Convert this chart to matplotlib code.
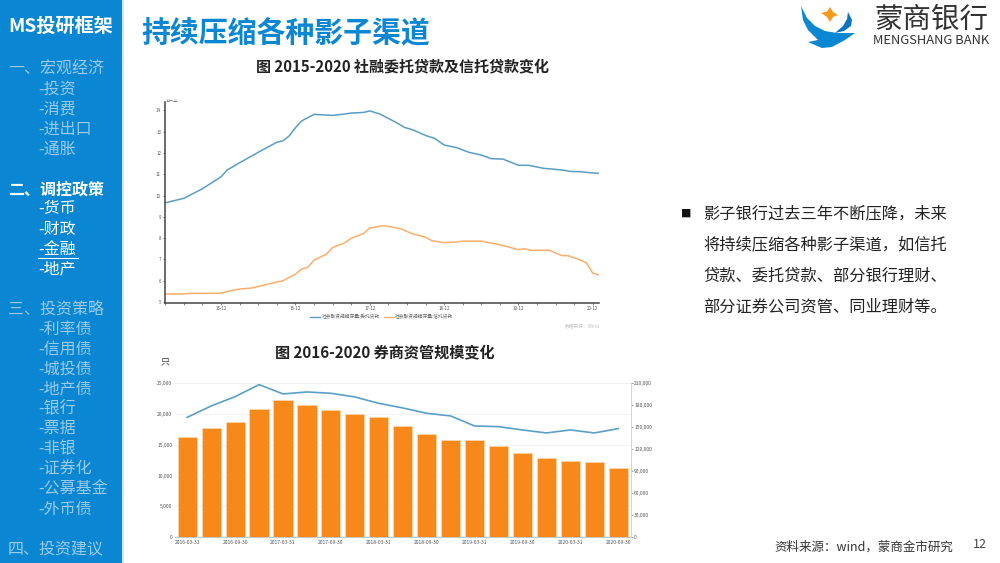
import matplotlib
matplotlib.use('Agg')
import matplotlib.pyplot as plt
from matplotlib.patches import Rectangle, Polygon

plt.rcParams['font.family'] = ['Noto Sans CJK SC', 'DejaVu Sans']

W, H = 1000, 563
BLUE = '#0a86d2'

# top chart: months since 2015-03, 万亿元
entrust_months = [0, 3, 6, 9, 10, 12, 15, 18, 19, 20, 21, 22, 24, 27, 29, 30, 32, 33, 34.6, 36, 37,
                  38.6, 40, 42, 43.5, 45, 47, 49, 51, 52.6, 54.5, 57, 58.6, 61, 64, 65.5, 67, 69, 70]
entrust = [9.66, 9.87, 10.32, 10.88, 11.2, 11.54, 12.03, 12.5, 12.57, 12.8, 13.18, 13.5, 13.81, 13.76,
           13.83, 13.87, 13.9, 13.97, 13.83, 13.62, 13.47, 13.2, 13.08, 12.82, 12.68, 12.37, 12.25,
           12.03, 11.9, 11.73, 11.71, 11.42, 11.42, 11.28, 11.2, 11.13, 11.12, 11.06, 11.04]
trust_months = [0, 3, 4, 9, 10, 12, 14, 16, 18, 19, 21, 22, 23, 24, 26, 27, 29, 30, 32, 33, 35, 36, 38,
                40, 42, 43, 45, 47, 48, 51, 54, 57, 58, 59, 62, 64, 65, 67, 68, 69, 70]
trust = [5.38, 5.38, 5.41, 5.41, 5.5, 5.61, 5.66, 5.8, 5.94, 6.0, 6.31, 6.55, 6.63, 6.97, 7.25, 7.55,
         7.79, 7.99, 8.22, 8.47, 8.58, 8.55, 8.44, 8.19, 8.05, 7.88, 7.79, 7.82, 7.86, 7.86, 7.69,
         7.46, 7.5, 7.43, 7.43, 7.18, 7.18, 6.97, 6.83, 6.35, 6.28]
top_yticks = [5, 6, 7, 8, 9, 10, 11, 12, 13, 14]
top_xticks = [9, 21, 33, 45, 57, 69]
top_xlabels = ['15-12', '16-12', '17-12', '18-12', '19-12', '20-12']

# bottom chart: quarterly
quarters = list(range(19))
bars = [16340, 17800, 18720, 20890, 22290, 21480, 20670, 20080, 19530, 18130, 16830, 15850, 15750,
        14880, 13640, 12880, 12450, 12180, 11310]
scale = [163600, 179100, 191800, 208200, 195500, 198200, 196400, 191400, 182700, 176400, 169100,
         165500, 151800, 150900, 146400, 142300, 146400, 142300, 148200]
bot_labels = ['2016-03-31', '2016-09-30', '2017-03-31', '2017-09-30', '2018-03-31',
              '2018-09-30', '2019-03-31', '2019-09-30', '2020-03-31', '2020-09-30']

menu = [(69, '一、宏观经济', 8, 0), (89, '-投资', 38, 0), (109, '-消费', 38, 0), (129, '-进出口', 38, 0),
        (149, '-通胀', 38, 0), (189, '二、调控政策', 8, 2), (209, '-货币', 38, 1), (229, '-财政', 38, 1),
        (249, '-金融', 38, 1), (269, '-地产', 38, 1), (309, '三、投资策略', 8, 0), (329, '-利率债', 38, 0),
        (349, '-信用债', 38, 0), (369, '-城投债', 38, 0), (389, '-地产债', 38, 0), (409, '-银行', 38, 0),
        (429, '-票据', 38, 0), (449, '-非银', 38, 0), (469, '-证券化', 38, 0), (489, '-公募基金', 38, 0),
        (509, '-外币债', 38, 0), (549, '四、投资建议', 8, 0)]
body = ['影子银行过去三年不断压降，未来', '将持续压缩各种影子渠道，如信托',
        '贷款、委托贷款、部分银行理财、', '部分证券公司资管、同业理财等。']


def axes_px(fig, left, top, right, bottom):
    return fig.add_axes([left / W, 1 - bottom / H, (right - left) / W, (bottom - top) / H])


fig = plt.figure(figsize=(10, 5.63), dpi=100)

# page layer in pixel coordinates
bg = fig.add_axes([0, 0, 1, 1])
bg.set_xlim(0, W)
bg.set_ylim(H, 0)
bg.axis('off')
bg.add_patch(Rectangle((0, 0), 122, H, color=BLUE, lw=0))
bg.add_patch(Rectangle((122, 0), 1.5, H, color='#cfe6f6', lw=0))
bg.text(61, 26, 'MS投研框架', color='white', fontsize=13.8, fontweight='bold', ha='center', va='center')
for y, label, x, level in menu:
    col = '#9acbeb' if level == 0 else 'white'
    bg.text(x, y, label, color=col, fontsize=11.5, va='center', fontweight='bold' if level == 2 else 'normal')
bg.plot([38, 78], [258, 258], color='white', lw=0.8)

bg.text(141, 32, '持续压缩各种影子渠道', color=BLUE, fontsize=20.8, fontweight='bold', va='center')
bg.text(403, 66, '图 2015-2020 社融委托贷款及信托贷款变化', color='#222222', fontsize=10.8,
        fontweight='bold', ha='center', va='center')
bg.text(385, 352, '图 2016-2020 券商资管规模变化', color='#222222', fontsize=10.9,
        fontweight='bold', ha='center', va='center')
bg.text(165, 363, '只', color='#333333', fontsize=6.5, ha='center', va='center')

bg.text(686, 214, '■', color='#111111', fontsize=7.5, ha='center', va='center')
for i, line in enumerate(body):
    bg.text(703, 214 + i * 31, line, color='#222222', fontsize=11.7, va='center')
bg.text(774, 547, '资料来源：wind，蒙商金市研究', color='#333333', fontsize=9, va='center')
bg.text(980, 545, '12', color='#444444', fontsize=9, ha='center', va='center')

# logo
bg.add_patch(Polygon([(801, 6), (807, 18), (815, 26), (825, 31), (837, 33), (855, 33), (845, 40), (832, 47),
                      (822, 48), (808, 42), (818, 40), (808, 30), (803, 20)], color='#0a86d2', lw=0))
bg.add_patch(Polygon([(848, 12), (852, 20), (851, 26), (844, 31), (835, 33), (843, 26), (847, 19)],
                     color='#0a74bf', lw=0))
bg.add_patch(Polygon([(821, 13), (827, 11.5), (830, 7), (833, 12), (838, 15), (833, 17), (830, 22), (827, 17)],
                     color='#f39a1e', lw=0))
bg.text(931, 20, '蒙商银行', color='#333333', fontsize=20.5, ha='center', va='center')
bg.text(931, 41, 'MENGSHANG BANK', color='#333333', fontsize=9.3, ha='center', va='center', fontweight='medium')

# top chart
ax = axes_px(fig, 164.5, 102, 599, 302.7)
ax.plot(entrust_months, entrust, color='#5a9dc2', lw=1.1)
ax.plot(trust_months, trust, color='#f9ae6b', lw=1.1)
ax.set_xlim(-0.13, 70)
ax.set_ylim(4.97, 14.39)
ax.set_yticks(top_yticks)
ax.set_xticks(range(0, 70, 3), minor=True)
ax.set_xticks(top_xticks)
ax.set_xticklabels(top_xlabels)
ax.tick_params(axis='both', which='major', labelsize=3.2, length=1.5, width=0.5, pad=1, colors='#555555')
ax.tick_params(axis='x', which='minor', length=1.2, width=0.5, color='#555555')
for s in ['top', 'right']:
    ax.spines[s].set_visible(False)
for s in ['left', 'bottom']:
    ax.spines[s].set_color('#444444')
    ax.spines[s].set_linewidth(1.1)
bg.text(166, 102, '万亿元', fontsize=3, color='#555555', va='center')

bg.plot([310, 320], [317, 317], color='#5a9dc2', lw=1)
bg.text(322, 317, '社会融资规模存量:委托贷款', fontsize=3.4, color='#666666', va='center')
bg.plot([384, 394], [317, 317], color='#f9ae6b', lw=1)
bg.text(395, 317, '社会融资规模存量:信托贷款', fontsize=3.4, color='#666666', va='center')
bg.text(600, 326, '数据来源：Wind', fontsize=3.4, color='#c4c4c4', ha='right', va='center')

# bottom chart
ax2 = axes_px(fig, 175, 383.3, 630.7, 537.3)
ax2.bar(quarters, bars, width=0.8, color='#f7881a', edgecolor='#fbd9b5', lw=0.5, zorder=2)
ax2.set_xlim(-0.51, 18.52)
ax2.set_ylim(0, 25000)
ax2.set_yticks(range(0, 25001, 5000))
ax2.set_yticklabels(['0', '5,000', '10,000', '15,000', '20,000', '25,000'])
ax2.set_xticks(quarters[::2])
ax2.set_xticklabels(bot_labels)
ax2.grid(axis='y', color='#f0f0f0', lw=0.6, zorder=0)
ax2.tick_params(axis='both', labelsize=3.6, length=0, pad=2, colors='#555555')
for s in ['top', 'left', 'right']:
    ax2.spines[s].set_visible(False)
ax2.spines['bottom'].set_color('#bbbbbb')
ax2.spines['bottom'].set_linewidth(0.6)

ax3 = ax2.twinx()
ax3.plot(quarters, scale, color='#5a9fc6', lw=1.2)
ax3.set_ylim(0, 210000)
ax3.set_yticks(range(0, 210001, 30000))
ax3.set_yticklabels(['0', '30,000', '60,000', '90,000', '120,000', '150,000', '180,000', '210,000'])
ax3.tick_params(axis='y', labelsize=3.6, length=1.5, width=0.4, pad=1, colors='#555555')
for s in ['top', 'left', 'bottom']:
    ax3.spines[s].set_visible(False)
ax3.spines['right'].set_color('#cccccc')
ax3.spines['right'].set_linewidth(0.6)

fig.savefig('out.png', dpi=100)
